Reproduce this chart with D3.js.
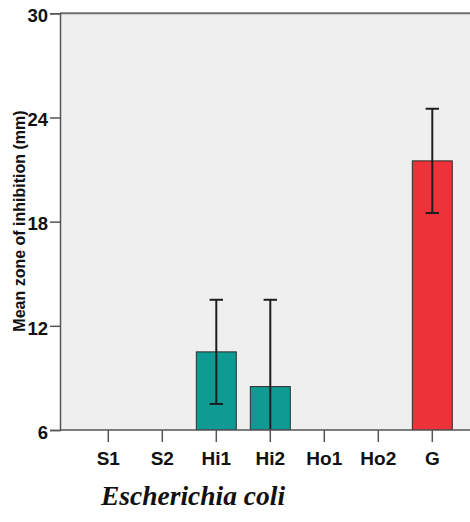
<!DOCTYPE html>
<html>
<head>
<meta charset="utf-8">
<script src="https://cdn.jsdelivr.net/npm/d3@7"></script>
<style>
  body { margin: 0; background: #fff; }
  svg { display: block; }
</style>
</head>
<body>
<div id="chart"></div>
<script>
// bar chart: mean zone of inhibition per extract, E. coli

var categories = ["S1", "S2", "Hi1", "Hi2", "Ho1", "Ho2", "G"];
var means = [0, 0, 10.5, 8.5, 0, 0, 21.5];
var errors = [0, 0, 3, 5, 0, 0, 3];
var barColors = ["#0f9a94", "#0f9a94", "#0f9a94", "#0f9a94", "#0f9a94", "#0f9a94", "#ee3239"];
var yTicks = [6, 12, 18, 24, 30];

(function() {
  var width = 470, height = 522;
  var left = 60, top = 13.3, bottom = 430, right = 470;
  var sans = "Arial, 'Liberation Sans', sans-serif";

  var svg = d3.select("#chart")
    .append("svg")
    .attr("width", width)
    .attr("height", height);

  var x = d3.scaleBand()
    .domain(categories)
    .range([81.3, 459.3])
    .paddingInner(0.26)
    .paddingOuter(0.13);

  var y = d3.scaleLinear()
    .domain([6, 30])
    .range([bottom, top]);

  // plot background
  svg.append("rect")
    .attr("x", left)
    .attr("y", top)
    .attr("width", right - left)
    .attr("height", bottom - top)
    .attr("fill", "#efefef");

  svg.append("clipPath").attr("id", "plot-clip")
    .append("rect")
    .attr("x", left)
    .attr("y", top)
    .attr("width", right - left)
    .attr("height", bottom - top);

  var data = categories.map(function(c, i) {
    return { cat: c, mean: means[i], err: errors[i], color: barColors[i] };
  });

  var plot = svg.append("g").attr("clip-path", "url(#plot-clip)");

  plot.selectAll(".bar")
    .data(data.filter(function(d) { return d.mean > 6; }))
    .enter().append("rect")
    .attr("class", "bar")
    .attr("x", function(d) { return x(d.cat); })
    .attr("y", function(d) { return y(d.mean); })
    .attr("width", x.bandwidth())
    .attr("height", function(d) { return bottom - y(d.mean); })
    .attr("fill", function(d) { return d.color; })
    .attr("stroke", "#2b2b2b")
    .attr("stroke-width", 1);

  var withErr = data.filter(function(d) { return d.err > 0; });
  var cx = function(d) { return x(d.cat) + x.bandwidth() / 2; };
  var capW = 6.7;

  plot.selectAll(".err-line")
    .data(withErr)
    .enter().append("line")
    .attr("x1", cx).attr("x2", cx)
    .attr("y1", function(d) { return y(d.mean + d.err); })
    .attr("y2", function(d) { return y(d.mean - d.err); })
    .attr("stroke", "#1e1e1e")
    .attr("stroke-width", 2);

  // caps, only where they land inside the plot
  var caps = [];
  withErr.forEach(function(d) {
    caps.push({ cat: d.cat, v: d.mean + d.err });
    if (d.mean - d.err > 6) caps.push({ cat: d.cat, v: d.mean - d.err });
  });
  plot.selectAll(".cap")
    .data(caps)
    .enter().append("line")
    .attr("x1", function(d) { return cx(d) - capW; })
    .attr("x2", function(d) { return cx(d) + capW; })
    .attr("y1", function(d) { return y(d.v); })
    .attr("y2", function(d) { return y(d.v); })
    .attr("stroke", "#1e1e1e")
    .attr("stroke-width", 2);

  // top border
  svg.append("line")
    .attr("x1", left).attr("x2", right)
    .attr("y1", top).attr("y2", top)
    .attr("stroke", "#6e6e6e")
    .attr("stroke-width", 2);

  // y axis
  var yAxis = svg.append("g")
    .attr("transform", "translate(" + left + ",0)")
    .call(d3.axisLeft(y).tickValues(yTicks).tickSize(10).tickPadding(2).tickFormat(d3.format("d")));
  yAxis.select(".domain").attr("stroke", "#555").attr("stroke-width", 1.5);
  yAxis.selectAll(".tick line").attr("stroke", "#555").attr("stroke-width", 1.5);
  yAxis.selectAll(".tick text")
    .attr("font-family", sans)
    .attr("font-size", 18.5)
    .attr("font-weight", "bold")
    .attr("fill", "#111")
    .attr("dy", "0.45em");

  // x axis
  var xAxis = svg.append("g")
    .attr("transform", "translate(0," + bottom + ")")
    .call(d3.axisBottom(x).tickSize(12).tickPadding(10).tickSizeOuter(0));
  xAxis.select(".domain").attr("stroke", "#555").attr("stroke-width", 1.5)
    .attr("d", "M" + left + ",0H" + right);
  xAxis.selectAll(".tick line").attr("stroke", "#555").attr("stroke-width", 1.5);
  xAxis.selectAll(".tick text")
    .attr("font-family", sans)
    .attr("font-size", 19)
    .attr("font-weight", "bold")
    .attr("fill", "#111");

  // y axis title
  svg.append("text")
    .attr("transform", "translate(25,221) rotate(-90)")
    .attr("text-anchor", "middle")
    .attr("font-family", sans)
    .attr("font-size", 16)
    .attr("font-weight", "bold")
    .attr("fill", "#111")
    .text("Mean zone of inhibition (mm)");

  // organism label
  svg.append("text")
    .attr("x", 101)
    .attr("y", 505)
    .attr("font-family", "'Liberation Serif', 'Times New Roman', serif")
    .attr("font-size", 27.5)
    .attr("font-weight", "bold")
    .attr("font-style", "italic")
    .attr("fill", "#111")
    .text("Escherichia coli");
})();
</script>
</body>
</html>
